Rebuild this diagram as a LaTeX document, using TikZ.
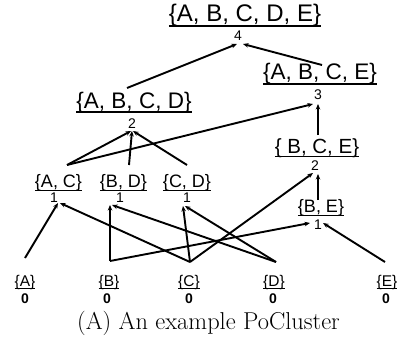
\documentclass[tikz,border=0pt]{standalone}
\usepackage{fontspec}
\usetikzlibrary{arrows.meta}
\newfontfamily\labfont{Liberation Sans}
% underlined set label: rule sits at the bottom of the braces
\newcommand{\uset}[1]{\setbox0=\hbox{#1}\rlap{\rule[-0.21em]{\wd0}{0.065em}}\box0}
\tikzset{
  setlab/.style={inner sep=0pt, outer sep=0pt, anchor=base,
                 font={\labfont\fontsize{#1pt}{#1pt}\selectfont}},
  numlab/.style={inner sep=0pt, outer sep=0pt, anchor=center,
                 font={\labfont\fontsize{14pt}{14pt}\selectfont}},
  zerolab/.style={inner sep=0pt, outer sep=0pt, anchor=center,
                 font={\labfont\bfseries\fontsize{14pt}{14pt}\selectfont}},
  edge/.style={line width=1.9pt, -{Stealth[length=5.5pt,width=4.5pt]}},
}
\begin{document}
\begin{tikzpicture}[x=1pt, y=-1pt]
\useasboundingbox (0,0) rectangle (398,342);

% lattice levels (label baselines) and their ranks
\node[setlab=24]   (sABCDE) at (245,22)  {\uset{\{A, B, C, D, E\}}};
\node[numlab]      (n4)     at (238,36)  {4};

\node[setlab=22.5] (sABCE)  at (320,80)  {\uset{\{A, B, C, E\}}};
\node[numlab]      (n3)     at (318,95)  {3};

\node[setlab=22.5] (sABCD)  at (134,108) {\uset{\{A, B, C, D\}}};
\node[numlab]      (n2a)    at (132,124) {2};

\node[setlab=20.5] (sBCE)   at (317,153) {\uset{\{ B, C, E\}}};
\node[numlab]      (n2b)    at (315,166) {2};

\node[setlab=18]   (sAC)    at (58.5,187) {\uset{\{A, C\}}};
\node[numlab]      (n1AC)   at (54,198)  {1};
\node[setlab=18]   (sBD)    at (123.5,187) {\uset{\{B, D\}}};
\node[numlab]      (n1BD)   at (120,198) {1};
\node[setlab=18]   (sCD)    at (187,187) {\uset{\{C, D\}}};
\node[numlab]      (n1CD)   at (187,198) {1};
\node[setlab=18]   (sBE)    at (321,212) {\uset{\{B, E\}}};
\node[numlab]      (n1BE)   at (318,225) {1};

\node[setlab=15.5] (sA) at (25,286)  {\uset{\{A\}}};
\node[zerolab]     (n0A) at (25,299) {0};
\node[setlab=15.5] (sB) at (109,286) {\uset{\{B\}}};
\node[zerolab]     (n0B) at (107,299) {0};
\node[setlab=15.5] (sC) at (189,286) {\uset{\{C\}}};
\node[zerolab]     (n0C) at (189,299) {0};
\node[setlab=15.5] (sD) at (274,286) {\uset{\{D\}}};
\node[zerolab]     (n0D) at (273,299) {0};
\node[setlab=15.5] (sE) at (387,286) {\uset{\{E\}}};
\node[zerolab]     (n0E) at (386,299) {0};

% covering edges, child label -> parent rank
\draw[edge] ([shift={(-7,-20)}]sABCD.base) -- ([shift={(-1,8)}]n4.center);
\draw[edge] ([shift={(2,-15)}]sABCE.base)  -- ([shift={(5,8)}]n4.center);

\draw[edge] ([shift={(8.5,-22)}]sAC.base)  -- ([shift={(-5,9)}]n3.center);
\draw[edge] ([shift={(1,-18)}]sBCE.base)   -- ([shift={(0,9)}]n3.center);

\draw[edge] ([shift={(8.5,-22)}]sAC.base)  -- ([shift={(-1,7)}]n2a.center);
\draw[edge] ([shift={(5.5,-22)}]sBD.base)  -- ([shift={(0,7)}]n2a.center);
\draw[edge] ([shift={(0,-22)}]sCD.base)    -- ([shift={(1,7)}]n2a.center);

\draw[edge] ([shift={(-3,-12)}]sBE.base)   -- ([shift={(3,8)}]n2b.center);
\draw[edge] ([shift={(1,-24)}]sC.base)     -- ([shift={(-2,7)}]n2b.center);

\draw[edge] ([shift={(0,-28)}]sA.base)     -- ([shift={(4,5)}]n1AC.center);
\draw[edge] ([shift={(1,-24)}]sC.base)     -- ([shift={(6,5)}]n1AC.center);

\draw[edge] ([shift={(1,-25)}]sB.base)     -- ([shift={(-10,7)}]n1BD.center);
\draw[edge] ([shift={(2,-24)}]sD.base)     -- ([shift={(-8,7)}]n1BD.center);

\draw[edge] ([shift={(1,-24)}]sC.base)     -- ([shift={(-4,8)}]n1CD.center);
\draw[edge] ([shift={(2,-24)}]sD.base)     -- ([shift={(-2,8)}]n1CD.center);

\draw[edge] ([shift={(1,-25)}]sB.base)     -- ([shift={(-8,-2)}]n1BE.center);
\draw[edge] ([shift={(-2,-24)}]sE.base)    -- ([shift={(5,-2)}]n1BE.center);

% caption
\node[inner sep=0pt, anchor=base, font={\fontsize{24.4pt}{28pt}\selectfont}]
  (caption) at (208.5,329) {(A) An example PoCluster};
\end{tikzpicture}
\end{document}
